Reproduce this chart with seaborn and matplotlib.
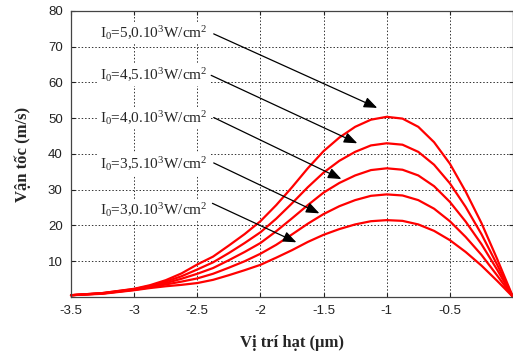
import matplotlib
matplotlib.use("Agg")
import matplotlib.pyplot as plt
import seaborn as sns
import pandas as pd

# ---- data ----
x_pos = [-3.5, -3.25, -3.0, -2.875, -2.75, -2.625, -2.5, -2.375, -2.25, -2.125, -2.0,
         -1.875, -1.75, -1.625, -1.5, -1.375, -1.25, -1.125, -1.0, -0.875, -0.75,
         -0.625, -0.5, -0.375, -0.25, -0.125, 0.0]
v_I50 = [0.5, 1.1, 2.3, 3.3, 4.7, 6.6, 9.1, 11.3, 14.4, 17.6, 21.2,
         25.7, 30.7, 36.0, 40.8, 44.6, 47.6, 49.6, 50.4, 49.9, 47.6,
         43.3, 37.3, 29.5, 20.7, 10.6, 0.0]
v_I45 = [0.5, 1.1, 2.2, 3.1, 4.3, 5.8, 7.7, 9.7, 12.3, 15.1, 18.1,
         21.9, 26.2, 30.7, 34.8, 38.1, 40.6, 42.4, 43.0, 42.6, 40.6,
         37.0, 31.8, 25.2, 17.6, 9.0, 0.0]
v_I40 = [0.5, 1.0, 2.1, 2.9, 3.9, 5.1, 6.5, 8.1, 10.3, 12.6, 15.1,
         18.4, 22.0, 25.7, 29.2, 31.9, 34.0, 35.5, 36.0, 35.6, 34.0,
         31.0, 26.6, 21.1, 14.8, 7.6, 0.0]
v_I35 = [0.5, 1.0, 2.0, 2.7, 3.5, 4.3, 5.2, 6.5, 8.2, 10.0, 12.1,
         14.6, 17.5, 20.5, 23.2, 25.4, 27.1, 28.3, 28.7, 28.4, 27.1,
         24.7, 21.2, 16.8, 11.8, 6.0, 0.0]
v_I30 = [0.5, 0.9, 1.9, 2.5, 3.0, 3.4, 3.9, 4.8, 6.1, 7.5, 9.0,
         11.0, 13.1, 15.4, 17.4, 19.0, 20.3, 21.2, 21.5, 21.3, 20.3,
         18.5, 15.9, 12.6, 8.8, 4.5, 0.0]

series_names = ["5,0", "4,5", "4,0", "3,5", "3,0"]
label_texts = [r"$\mathrm{I_0}$=5,0.$\mathrm{10^3W/cm^2}$",
               r"$\mathrm{I_0}$=4,5.$\mathrm{10^3W/cm^2}$",
               r"$\mathrm{I_0}$=4,0.$\mathrm{10^3W/cm^2}$",
               r"$\mathrm{I_0}$=3,5.$\mathrm{10^3W/cm^2}$",
               r"$\mathrm{I_0}$=3,0.$\mathrm{10^3W/cm^2}$"]
# label anchor (data coords), arrow tail and head
label_xy = [(-3.27, 73.9), (-3.27, 62.1), (-3.27, 50.0), (-3.27, 37.2), (-3.27, 24.3)]
arrow_tail = [(-2.37, 73.6), (-2.39, 62.0), (-2.37, 50.2), (-2.37, 37.5), (-2.38, 26.2)]
arrow_head = [(-1.075, 52.9), (-1.233, 43.0), (-1.359, 33.0), (-1.533, 23.4), (-1.715, 15.3)]

x_ticks = [-3.5, -3.0, -2.5, -2.0, -1.5, -1.0, -0.5, 0.0]
x_ticklabels = ["-3.5", "-3", "-2.5", "-2", "-1.5", "-1", "-0.5", ""]
y_ticks = [10, 20, 30, 40, 50, 60, 70, 80]

all_vals = [v_I50, v_I45, v_I40, v_I35, v_I30]
rows = []
for name, vals in zip(series_names, all_vals):
    for xv, yv in zip(x_pos, vals):
        rows.append({"x": xv, "v": yv, "I0": name})
df = pd.DataFrame(rows)

sns.set_style("white")
plt.rcParams["mathtext.fontset"] = "custom"
plt.rcParams["mathtext.rm"] = "Liberation Serif"
plt.rcParams["mathtext.it"] = "Liberation Serif:italic"
plt.rcParams["mathtext.bf"] = "Liberation Serif:bold"

fig = plt.figure(figsize=(5.13, 3.57), dpi=100)
ax = fig.add_axes([71 / 513, 60 / 357, 442 / 513, 286 / 357])

sns.lineplot(data=df, x="x", y="v", hue="I0", palette=["#ff0000"] * 5,
             linewidth=1.6, legend=False, ax=ax, sort=False, clip_on=False)
for ln in ax.lines:
    ln.set_solid_joinstyle("round")

ax.set_xlim(-3.5, 0.0)
ax.set_ylim(0, 80)
ax.set_xticks(x_ticks)
ax.set_xticklabels(x_ticklabels, fontfamily="Liberation Sans", fontsize=9.5)
ax.set_yticks(y_ticks)
ax.set_yticklabels([str(t) for t in y_ticks], fontfamily="Liberation Sans", fontsize=9.5)
ax.tick_params(direction="in", length=3, width=0.8, top=True, right=True,
               bottom=True, left=True, pad=6, colors="#222222")
ax.grid(True, linestyle=(0, (1.5, 2.0)), color="#333333", linewidth=0.7)
for s in ax.spines.values():
    s.set_color("#444444")
    s.set_linewidth(0.9)

ax.set_xlabel("Vị trí hạt (µm)", fontfamily="Liberation Serif", fontweight="bold",
              fontsize=12, labelpad=13)
ax.set_ylabel("Vận tốc (m/s)", fontfamily="Liberation Serif", fontweight="bold",
              fontsize=12, labelpad=12)

for txt, (lx, ly), tail, head in zip(label_texts, label_xy, arrow_tail, arrow_head):
    ax.text(lx, ly, txt, fontfamily="Liberation Serif", fontsize=11,
            va="center", ha="left", zorder=5,
            bbox=dict(facecolor="white", edgecolor="none", pad=1.5))
    ax.annotate("", xy=head, xytext=tail, zorder=6,
                arrowprops=dict(arrowstyle="-|>,head_length=0.8,head_width=0.32",
                                color="black", lw=0.9, shrinkA=0, shrinkB=0))

fig.savefig("out.png", dpi=100)
